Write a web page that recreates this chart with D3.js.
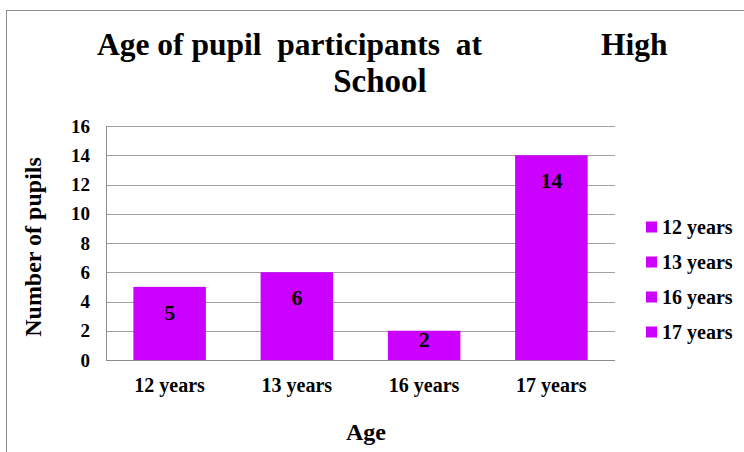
<!DOCTYPE html>
<html>
<head>
<meta charset="utf-8">
<script src="https://cdn.jsdelivr.net/npm/d3@7"></script>
<style>
  html, body { margin: 0; padding: 0; background: #fff; }
</style>
</head>
<body>
<svg id="chart" width="744" height="452"></svg>
<script>
// chart data
const categories = ['12 years', '13 years', '16 years', '17 years'];
const values = [5, 6, 2, 14];
const yTicks = [0, 2, 4, 6, 8, 10, 12, 14, 16];
const BAR = '#cc00ff';
const FONT = 'Liberation Serif';

const svg = d3.select('#chart');
const M = { l: 106, r: 615, t: 126, b: 360 };

function txt(sel) {
  return sel.attr('font-family', FONT).attr('font-weight', 'bold').attr('fill', '#000');
}

// outer frame
svg.append('rect').attr('x', 6.5).attr('y', 10.5).attr('width', 800).attr('height', 500)
  .attr('fill', 'none').attr('stroke', '#8c8c8c').attr('stroke-width', 1);

const x = d3.scaleBand().domain(categories).range([M.l, M.r]).paddingInner(0.43).paddingOuter(0.215);
const y = d3.scaleLinear().domain([0, 16]).range([M.b, M.t]);

// gridlines
svg.append('g').selectAll('line').data(yTicks.filter(d => d > 0)).join('line')
  .attr('x1', M.l).attr('x2', M.r)
  .attr('y1', d => Math.round(y(d)) + 0.5).attr('y2', d => Math.round(y(d)) + 0.5)
  .attr('stroke', '#a0a0a0').attr('stroke-width', 1);

// bars
svg.append('g').selectAll('rect').data(values).join('rect')
  .attr('x', (d, i) => x(categories[i])).attr('width', x.bandwidth())
  .attr('y', d => y(d)).attr('height', d => y(0) - y(d))
  .attr('fill', BAR);

// axes lines
svg.append('line').attr('x1', M.l + 0.5).attr('x2', M.l + 0.5).attr('y1', M.t).attr('y2', M.b)
  .attr('stroke', '#8c8c8c');
svg.append('line').attr('x1', M.l).attr('x2', M.r).attr('y1', M.b + 0.5).attr('y2', M.b + 0.5)
  .attr('stroke', '#8c8c8c');

// value labels (inside end, kept above the axis for short bars)
svg.append('g').selectAll('text').data(values).join('text').call(txt)
  .attr('x', (d, i) => x(categories[i]) + x.bandwidth() / 2)
  .attr('y', d => Math.min(y(d) + 33, y(0) - 13))
  .attr('text-anchor', 'middle').attr('font-size', 22)
  .text(d => d);

// y tick labels
svg.append('g').selectAll('text').data(yTicks).join('text').call(txt)
  .attr('x', 90).attr('y', d => y(d)).attr('dy', '0.35em')
  .attr('text-anchor', 'end').attr('font-size', 19)
  .text(d => d);

// x tick labels
svg.append('g').selectAll('text').data(categories).join('text').call(txt)
  .attr('x', d => x(d) + x.bandwidth() / 2).attr('y', 392)
  .attr('text-anchor', 'middle').attr('font-size', 20)
  .text(d => d);

// axis titles
txt(svg.append('text')).attr('x', 366).attr('y', 440).attr('text-anchor', 'middle')
  .attr('font-size', 24).text('Age');
txt(svg.append('text')).attr('transform', 'translate(41,247) rotate(-90)').attr('text-anchor', 'middle')
  .attr('font-size', 24).text('Number of pupils');

// title
txt(svg.append('text')).attr('x', 97).attr('y', 55).attr('font-size', 31.5)
  .attr('xml:space', 'preserve').text('Age of pupil  participants  at');
txt(svg.append('text')).attr('x', 601).attr('y', 55).attr('font-size', 31.5).text('High');
txt(svg.append('text')).attr('x', 380).attr('y', 92).attr('text-anchor', 'middle').attr('font-size', 33).text('School');

// legend
const lg = svg.append('g').selectAll('g').data(categories).join('g')
  .attr('transform', (d, i) => `translate(646,${227 + i * 35})`);
lg.append('rect').attr('x', 0).attr('y', -5.5).attr('width', 11).attr('height', 11).attr('fill', BAR);
txt(lg.append('text')).attr('x', 16).attr('y', 0).attr('dy', '0.35em').attr('font-size', 20).text(d => d);
</script>
</body>
</html>
